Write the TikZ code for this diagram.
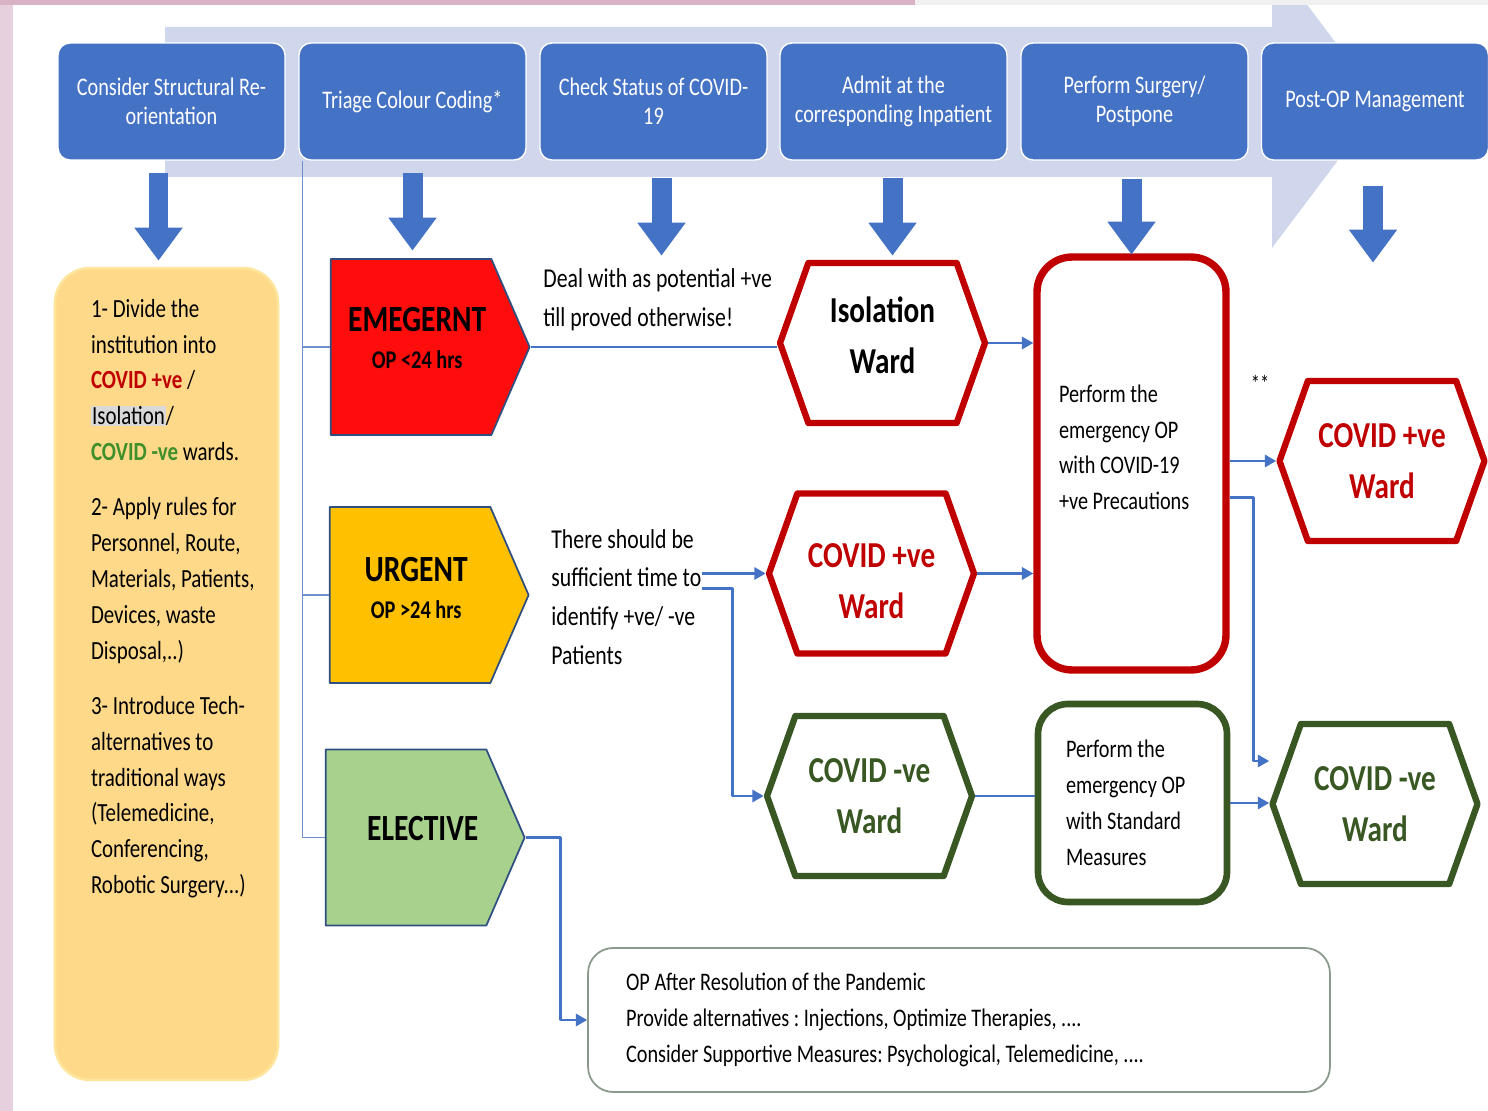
\documentclass[tikz,border=0pt]{standalone}
\usepackage{fontspec}
\setmainfont{Carlito}[FakeStretch=0.8]
\usepackage{tikz}
\usetikzlibrary{arrows.meta}
\usetikzlibrary{calc}
\usetikzlibrary{shapes.symbols}
\definecolor{headblue}{HTML}{4472C4}
\definecolor{bandblue}{HTML}{D0D6EB}
\definecolor{wardred}{HTML}{C00000}
\definecolor{wardgreen}{HTML}{385723}
\definecolor{textgreen}{HTML}{3F8F2A}
\definecolor{emerred}{HTML}{FF0D0D}
\definecolor{urgyellow}{HTML}{FFC000}
\definecolor{elecgreen}{HTML}{A9D18E}
\definecolor{setupyellow}{HTML}{FFD98A}
\definecolor{setupedge}{HTML}{FFE49C}
\definecolor{triedge}{HTML}{2F4F80}
\definecolor{pinkedge}{HTML}{E7D0DD}
\definecolor{pinktop}{HTML}{DAB2C6}
\definecolor{greytop}{HTML}{F0F0F0}
\definecolor{hlgrey}{HTML}{D9D9D9}
\definecolor{notegrey}{HTML}{8A9A8A}
\definecolor{spineblue}{HTML}{6F8FCF}
\newcommand{\fs}[2]{\fontsize{#1}{#2}\selectfont}
\newcommand{\plainspaces}{\spaceskip=\fontdimen2\font\xspaceskip=\fontdimen2\font\relax}
\frenchspacing

\begin{document}
\begin{tikzpicture}[x=0.02cm, y=-0.02cm, line join=round,
  stage/.style={draw=white, line width=0.8pt, fill=headblue, rounded corners=0.24cm,
    minimum width=4.54cm, minimum height=2.34cm, align=center,
    text=white, inner sep=0pt, font=\fs{14.4}{16.4}},
  setupbox/.style={fill=setupyellow, draw=setupedge, line width=1.5pt, rounded corners=0.7cm,
    inner xsep=0pt, inner ysep=0.6cm, minimum width=4.46cm, minimum height=16.24cm,
    font=\fs{14.9}{20.4}},
  triage/.style={shape=signal, signal to=east, signal pointer angle=133, draw=triedge,
    line width=1pt, minimum width=3.98cm, minimum height=3.52cm, inner sep=0pt, align=center},
  ward/.style={shape=signal, signal to=east and west, signal pointer angle=141, fill=white,
    line width=3.6pt, minimum width=4.1cm, minimum height=3.2cm, inner sep=0pt, align=center,
    font=\fs{20.8}{29}\bfseries},
  wardpos/.style={ward, draw=wardred, text=wardred},
  wardneg/.style={ward, draw=wardgreen, text=wardgreen},
  opbox/.style={fill=white, align=left, inner sep=0pt, font=\fs{14.4}{20.4},
    execute at begin node=\plainspaces},
  notetext/.style={align=left, inner sep=0pt, anchor=west, font=\fs{15.5}{22.1}},
  link/.style={draw=headblue, line width=1.4pt},
  flow/.style={link, -{Triangle[length=6.5pt,width=7pt]}},
  spinelink/.style={draw=spineblue, line width=0.7pt},
  downarrow/.style={draw=headblue, line width=0.4cm, line cap=butt,
    -{Triangle[length=0.66cm,width=0.92cm]}}]
\useasboundingbox (0,0) rectangle (1488,1111);
\clip (0,0) rectangle (1488,1111);
\fill[white] (0,0) rectangle (1488,1111);
\fill[bandblue] (165,27) -- (1272,27) -- (1272,-42) -- (1381,103) -- (1272,248)
  -- (1272,177) -- (165,177) -- cycle;
\fill[pinkedge] (0,0) rectangle (13,1111);
\fill[pinktop] (0,0) rectangle (915,5);
\fill[greytop] (915,0) rectangle (1488,5);

\node[stage] (hd1) at (171.5,101.5) {Consider Structural Re-\\orientation};
\node[stage] (hd2) at (412.5,101.5) {Triage Colour Coding*};
\node[stage] (hd3) at (653.5,101.5) {Check Status of COVID-\\19};
\node[stage] (hd4) at (893.5,101.5) {Admit at the\\corresponding Inpatient};
\node[stage] (hd5) at (1134.5,101.5) {Perform Surgery/\\Postpone};
\node[stage] (hd6) at (1375,101.5) {Post-OP Management};

\node[setupbox] (setup) at (166.5,674) {\parbox[c][15cm][t]{4.46cm}{\raggedright\leftskip=0.72cm
  1- Divide the\\
  institution into\\
  \textcolor{wardred}{\bfseries COVID +ve} /\\
  {\fboxsep=0.6pt\colorbox{hlgrey}{Isolation}}/\\
  \textcolor{textgreen}{\bfseries COVID -ve} wards.\\[11pt]
  2- Apply rules for\\
  Personnel, Route,\\
  Materials, Patients,\\
  Devices, waste\\
  Disposal,..)\\[11pt]
  3- Introduce Tech-\\
  alternatives to\\
  traditional ways\\
  (Telemedicine,\\
  Conferencing,\\
  Robotic Surgery...)}};

\node[triage, fill=emerred] (emer) at (411,347)
  {\hspace*{7pt}\fs{21}{25}\bfseries EMEGERNT\\[9pt]
   \hspace*{7pt}\fs{14.5}{17}\bfseries OP <24 hrs\rule[-0.36cm]{0pt}{0pt}};
\node[triage, fill=urgyellow] (urg) at (410,595)
  {\hspace*{7pt}\fs{21}{25}\bfseries URGENT\\[9pt]
   \hspace*{7pt}\fs{14.5}{17}\bfseries OP >24 hrs\rule[-0.3cm]{0pt}{0pt}};
\node[triage, fill=elecgreen] (elec) at (406,837.5)
  {\hspace*{19pt}\fs{21}{25}\bfseries ELECTIVE\rule[-0.36cm]{0pt}{0pt}};

\node[notetext] (note1) at (543,300) {Deal with as potential +ve\\till proved otherwise!};
\node[notetext] (note2) at (551,597) {There should be\\sufficient time to\\identify +ve/ -ve\\Patients};

\node[ward, draw=wardred] (iso) at (882.5,343) {Isolation\\Ward\rule[-0.3cm]{0pt}{0pt}};
\node[wardpos] (wpos) at (871.5,573.5) {\rule{0pt}{0.8cm}COVID +ve\\Ward};
\node[wardneg] (wneg) at (869.5,796) {COVID -ve\\Ward};
\node[wardpos] (rpos) at (1382,461) {COVID +ve\\Ward};
\node[wardneg] (rneg) at (1375,804) {COVID -ve\\Ward};

\node[opbox, draw=wardred, line width=4.2pt, rounded corners=0.7cm, minimum width=3.78cm,
  minimum height=8.26cm, text width=2.9cm, text depth=2.8cm] (redbox) at (1131.5,463.5)
  {Perform the\\emergency OP\\with COVID-19\\+ve Precautions};
\node[opbox, draw=wardgreen, line width=3.8pt, rounded corners=0.6cm, minimum width=3.78cm,
  minimum height=3.96cm, text width=2.66cm] (stdbox) at (1132.5,803)
  {Perform the\\emergency OP\\with Standard\\Measures};
\node[opbox, draw=notegrey, line width=1pt, rounded corners=0.5cm, minimum width=14.84cm,
  minimum height=2.88cm, text width=13.32cm] (resol) at (959,1020)
  {OP After Resolution of the Pandemic\\Provide alternatives : Injections, Optimize Therapies, ....\\Consider Supportive Measures: Psychological, Telemedicine, ....};
\node[font=\fs{13}{15}, inner sep=0pt] (stars) at (1260,383) {**};

\foreach \s/\dx/\dy/\len in {hd1/-13/12/88, hd2/0/12/78, hd3/8/17/78, hd4/-1/17/78, hd5/-3/18/76, hd6/-2/25/77}
  \draw[downarrow] ($(\s.south)+(\dx,\dy)$) -- ++(0,\len);

\coordinate (spine) at ($(hd2.south west)+(4,0)$);
\draw[spinelink] (spine) |- (elec.west);
\draw[spinelink] (spine |- emer.west) -- (emer.west);
\draw[spinelink] (spine |- urg.west) -- (urg.west);

\draw[link] (emer.east) -- (emer.east -| iso.west);
\draw[flow] (iso.east) -- (iso.east -| redbox.west);
\draw[flow] (note2.east |- wpos.west) -- (wpos.west);
\coordinate (split) at ($(note2.east |- wpos.west)+(0,15)$);
\draw[flow] (split) -- ++(31,0) |- (wneg.west);
\draw[flow] (wpos.east) -- (wpos.east -| redbox.west);
\draw[link] (wneg.east) -- (wneg.east -| stdbox.west);
\draw[flow] (redbox.east |- rpos.west) -- (rpos.west);
\draw[flow] ($(redbox.east)+(0,34)$) -- ++(24,0) |- ($(rneg.west)+(0,-43)$);
\draw[flow] (stdbox.east) -- (stdbox.east -| rneg.west);
\draw[flow] (elec.east) -- ++(35,0) |- (resol.west);
\end{tikzpicture}
\end{document}
